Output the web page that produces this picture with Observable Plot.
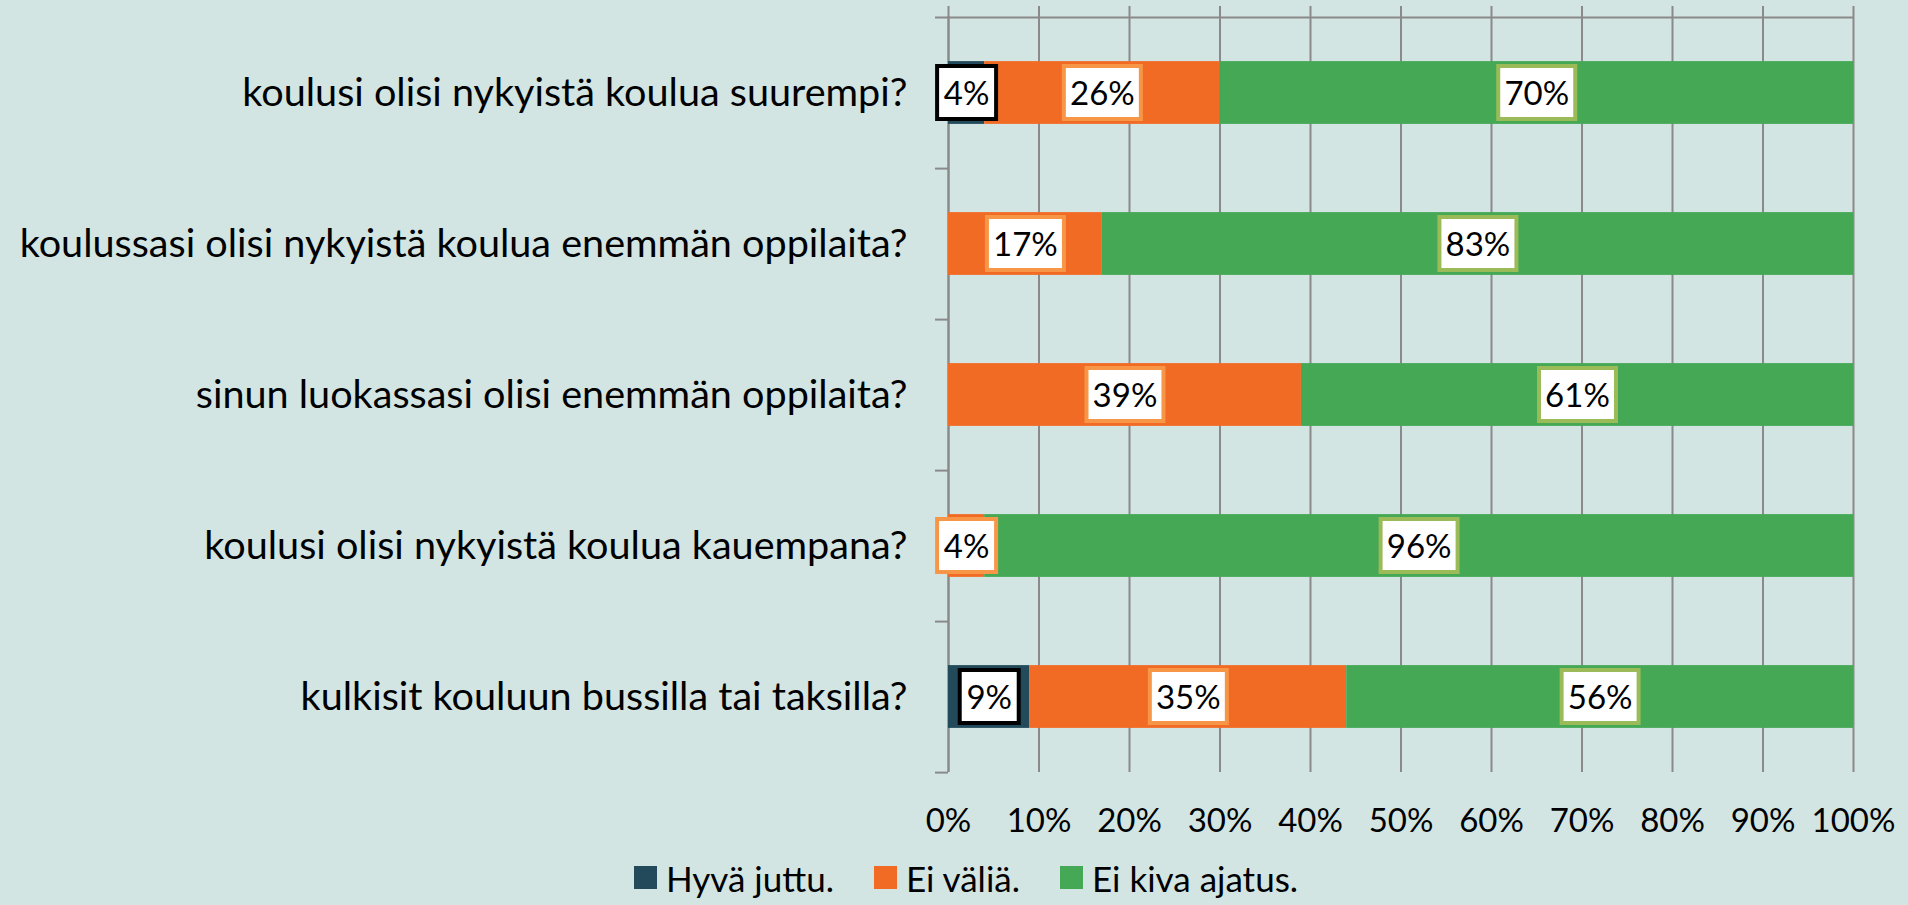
<!DOCTYPE html>
<html>
<head>
<meta charset="utf-8">
<script src="https://cdn.jsdelivr.net/npm/d3@7"></script>
<script src="https://cdn.jsdelivr.net/npm/@observablehq/plot@0.6"></script>
<style>
  html, body { margin: 0; padding: 0; background: #d2e5e3; }
  body { width: 1908px; height: 905px; overflow: hidden; font-family: Lato, sans-serif; }
  #legend { display: flex; justify-content: center; align-items: center; height: 55px; padding-left: 24px; box-sizing: border-box; font-size: 35px; color: #000; }
  #legend .item { display: flex; align-items: center; margin: 0 20px; }
  #legend .sw { width: 23px; height: 23px; margin-right: 9px; display: inline-block; }
</style>
</head>
<body>
<div id="chart"></div>
<div id="legend"></div>
<script>
// ---- data ----
const questions = [
  "koulusi olisi nykyistä koulua suurempi?",
  "koulussasi olisi nykyistä koulua enemmän oppilaita?",
  "sinun luokassasi olisi enemmän oppilaita?",
  "koulusi olisi nykyistä koulua kauempana?",
  "kulkisit kouluun bussilla tai taksilla?"
];
const seriesNames = ["Hyvä juttu.", "Ei väliä.", "Ei kiva ajatus."];
const hyvaJuttu   = [4, 0, 0, 0, 9];
const eiValia     = [26, 17, 39, 4, 35];
const eiKivaAjatus = [70, 83, 61, 96, 56];
const xTicks = [0, 10, 20, 30, 40, 50, 60, 70, 80, 90, 100];
const xTickLabels = ["0%", "10%", "20%", "30%", "40%", "50%", "60%", "70%", "80%", "90%", "100%"];

// ---- styles ----
const fillColors = ["#234a5a", "#f26b24", "#44a855"];
const borderColors = ["#000000", "#f79646", "#9bbb59"];
const bg = "#d2e5e3";
const gridColor = "#8a8a8a";

const seriesValues = [hyvaJuttu, eiValia, eiKivaAjatus];
const table = [];
questions.forEach((q, i) => {
  seriesNames.forEach((s, j) => {
    table.push({question: q, series: s, value: seriesValues[j][i]});
  });
});

const W = 1908, H = 850;
const mTop = 16, mBottom = 78, mLeft = 948, mRight = 55;
const band = (H - mTop - mBottom) / questions.length;
const boxW = d => String(d.value).length === 1 ? 63 : 81;
const boxH = 57, border = 4, barH = 63;

const stackOpts = (extra) => Plot.stackX({x: "value", y: "question", z: "series", ...extra});

const marks = [
  // vertical gridlines
  Plot.ruleX(xTicks, {x: d => d, stroke: gridColor, strokeWidth: 2, insetTop: -10}),
  // top line
  Plot.ruleY([questions[0]], {y: d => d, x1: 0, x2: 100, insetLeft: -13, dy: -band / 2, stroke: gridColor, strokeWidth: 2}),
  // y axis line
  Plot.ruleX([0], {x: d => d, stroke: gridColor, strokeWidth: 2}),
  // band boundary ticks
  Plot.ruleY(questions, {y: d => d, x1: 0, x2: 0, insetLeft: -13, dy: band / 2, stroke: gridColor, strokeWidth: 2}),
  // bars
  Plot.barX(table, stackOpts({fill: "series", insetTop: (band - barH) / 2, insetBottom: (band - barH) / 2}))
];

seriesNames.forEach((s, j) => {
  const test = d => d.series === s && d.value > 0;
  marks.push(Plot.filter(test, stackOpts({
    stroke: borderColors[j], strokeWidth: boxW,
    insetTop: (band - boxH) / 2, insetBottom: (band - boxH) / 2, mark: "tick"
  })));
});

const finalMarks = [];
marks.forEach(m => {
  if (m && m.mark === "tick") {
    finalMarks.push(Plot.tickX(table, m));
    finalMarks.push(Plot.tickX(table, {...m, stroke: "white", strokeWidth: d => boxW(d) - 2 * border,
      insetTop: (band - boxH) / 2 + border, insetBottom: (band - boxH) / 2 + border}));
  } else finalMarks.push(m);
});

finalMarks.push(
  Plot.text(table, Plot.filter(d => d.value > 0, stackOpts({text: d => d.value + "%", fill: "black", fontSize: 33, dy: 1}))),
  Plot.axisX({ticks: xTicks, tickFormat: (d, i) => xTickLabels[xTicks.indexOf(d)], tickSize: 0, tickPadding: 36, fontSize: 33, fill: "black"}),
  Plot.axisY({tickSize: 0, tickPadding: 41, fontSize: 39.6, fill: "black"})
);

const chart = Plot.plot({
  width: W, height: H,
  marginTop: mTop, marginBottom: mBottom, marginLeft: mLeft, marginRight: mRight,
  style: {background: bg, fontFamily: "Lato, sans-serif", color: "black"},
  x: {domain: [0, 100], label: null},
  y: {domain: questions, padding: 0, label: null},
  color: {domain: seriesNames, range: fillColors},
  marks: finalMarks
});
document.getElementById("chart").appendChild(chart);

const legend = document.getElementById("legend");
seriesNames.forEach((s, j) => {
  const item = document.createElement("div");
  item.className = "item";
  const sw = document.createElement("span");
  sw.className = "sw";
  sw.style.background = fillColors[j];
  const t = document.createElement("span");
  t.textContent = s;
  item.appendChild(sw); item.appendChild(t);
  legend.appendChild(item);
});
</script>
</body>
</html>
